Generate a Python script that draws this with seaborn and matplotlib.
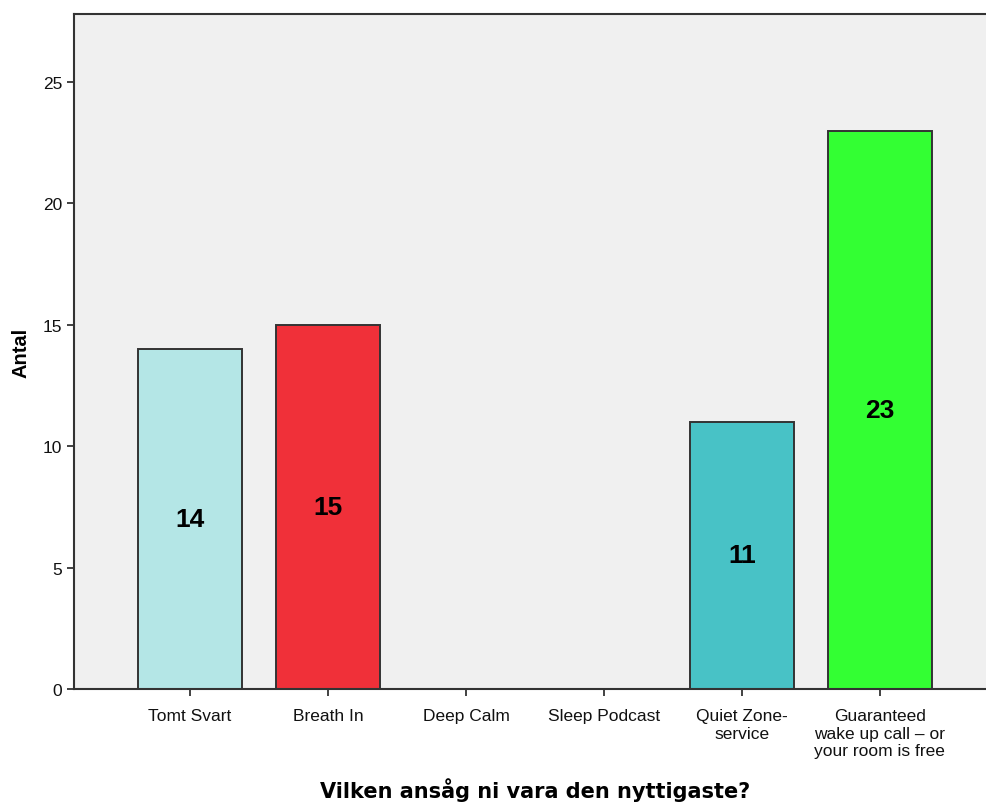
import matplotlib
matplotlib.use("Agg")
import matplotlib.pyplot as plt
import seaborn as sns
import pandas as pd

categories = ["Tomt Svart", "Breath In", "Deep Calm", "Sleep Podcast",
              "Quiet Zone-\nservice", "Guaranteed\nwake up call \u2013 or\nyour room is free"]
counts = [14, 15, 0, 0, 11, 23]
colors = ["#B4E6E6", "#F03039", "#B4E6E6", "#B4E6E6", "#48C2C6", "#33FF33"]
yticks = [0, 5, 10, 15, 20, 25]

sns.set_theme(style="white")
plt.rcParams["font.family"] = ["Liberation Sans", "DejaVu Sans"]

df = pd.DataFrame({"Kategori": categories, "Antal": counts})

fig = plt.figure(figsize=(9.87, 8.03), dpi=100)
ax = fig.add_axes([0.0745, 0.1407, 0.935, 0.8406])
ax.set_facecolor("#F0F0F0")

sns.barplot(data=df, x="Kategori", y="Antal", hue="Kategori",
            palette=dict(zip(categories, colors)), legend=False,
            width=0.754, edgecolor="#333333", linewidth=1.4,
            saturation=1, ax=ax)

for i, v in enumerate(counts):
    if v > 0:
        ax.text(i, v / 2, str(v), ha="center", va="center",
                fontsize=19, fontweight="bold", color="#000000")

ax.set_xlim(-0.844, 5.844)
ax.set_ylim(0, 27.8)
ax.set_yticks(yticks)
ax.set_yticklabels([str(t) for t in yticks])

for side in ["left", "bottom", "top"]:
    ax.spines[side].set_visible(True)
    ax.spines[side].set_color("#333333")
    ax.spines[side].set_linewidth(1.5)
ax.spines["right"].set_visible(False)

ax.tick_params(axis="both", which="both", direction="out", length=5,
               width=1.3, color="#333333", labelsize=12.5, labelcolor="#111111",
               left=True, bottom=True, pad=3)
ax.tick_params(axis="x", pad=9)
for lbl in ax.get_xticklabels():
    lbl.set_linespacing(1.2)

ax.set_ylabel("Antal", fontsize=14.5, fontweight="bold", labelpad=9,
              color="#000000")
ax.set_xlabel("Vilken ansåg ni vara den nyttigaste?", fontsize=15,
              fontweight="bold", family="DejaVu Sans", color="#000000")
ax.xaxis.set_label_coords(0.5, -0.131)

fig.savefig("out.png", dpi=100)
